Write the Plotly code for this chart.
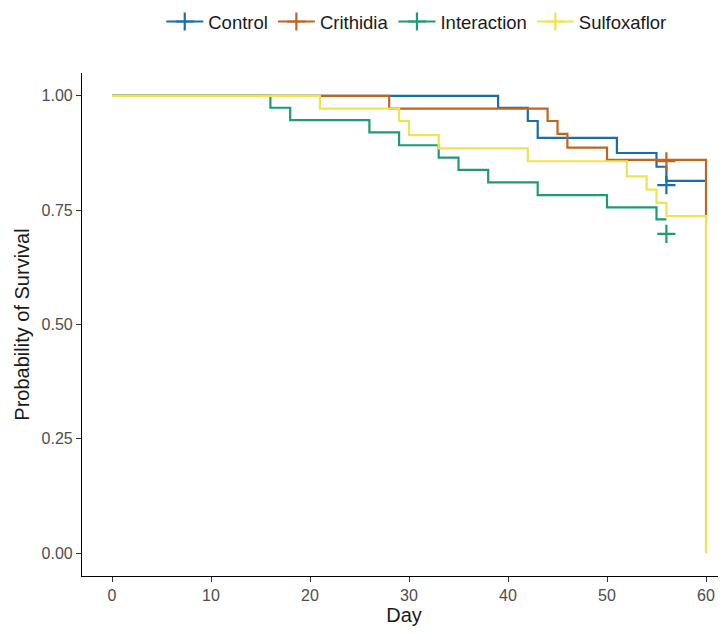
import plotly.graph_objects as go

groups = ["Control", "Crithidia", "Interaction", "Sulfoxaflor"]
colors = ["#1B6CA8", "#C0651F", "#1E9A78", "#EFE253"]

control_days = [0, 39, 42, 43, 51, 55, 56, 60]
control_surv = [1.0, 0.974, 0.945, 0.908, 0.875, 0.845, 0.814, 0.814]

crithidia_days = [0, 28, 44, 45, 46, 50, 60, 60]
crithidia_surv = [1.0, 0.972, 0.945, 0.917, 0.887, 0.860, 0.860, 0.736]

interaction_days = [0, 16, 18, 26, 29, 33, 35, 38, 43, 50, 55, 56]
interaction_surv = [1.0, 0.974, 0.947, 0.920, 0.892, 0.865, 0.838, 0.811, 0.783, 0.756, 0.730, 0.730]

sulfoxaflor_days = [0, 21, 29, 30, 33, 42, 52, 54, 55, 56, 60, 60]
sulfoxaflor_surv = [1.0, 0.972, 0.945, 0.914, 0.885, 0.857, 0.824, 0.795, 0.766, 0.737, 0.737, 0.0]

censor_days = [56, 56, 56]
censor_surv = [0.805, 0.857, 0.698]
censor_groups = ["Control", "Crithidia", "Interaction"]

x_ticks = [0, 10, 20, 30, 40, 50, 60]
y_ticks = [0.0, 0.25, 0.5, 0.75, 1.0]
y_tick_labels = ["0.00", "0.25", "0.50", "0.75", "1.00"]

series = {
    "Control": (control_days, control_surv),
    "Crithidia": (crithidia_days, crithidia_surv),
    "Interaction": (interaction_days, interaction_surv),
    "Sulfoxaflor": (sulfoxaflor_days, sulfoxaflor_surv),
}

fig = go.Figure()
for g, c in zip(groups, colors):
    d, s = series[g]
    fig.add_trace(go.Scatter(x=d, y=s, mode="lines", line=dict(color=c, width=2.2, shape="hv"),
                             name=g, legendgroup=g, showlegend=False, hoverinfo="skip"))

for d, s, g in zip(censor_days, censor_surv, censor_groups):
    c = colors[groups.index(g)]
    fig.add_trace(go.Scatter(x=[d], y=[s], mode="markers",
                             marker=dict(symbol="cross-thin", size=13, line=dict(color=c, width=2.2)),
                             legendgroup=g, showlegend=False))

for g, c in zip(groups, colors):
    fig.add_trace(go.Scatter(x=[None], y=[None], mode="lines+markers", name=g, legendgroup=g,
                             line=dict(color=c, width=2.2),
                             marker=dict(symbol="cross-thin", size=13, line=dict(color=c, width=2.2))))

fig.update_layout(
    width=726, height=635,
    paper_bgcolor="white", plot_bgcolor="white",
    margin=dict(l=74, r=8, t=65, b=67),
    font=dict(family="Liberation Sans, Arial, sans-serif", color="black"),
    legend=dict(orientation="h", xref="container", yref="container", x=0.563, xanchor="center",
                y=0.978, yanchor="middle", itemwidth=37, font=dict(size=18.5, color="#1a1a1a"),
                bgcolor="rgba(0,0,0,0)"),
    xaxis=dict(range=[-3.03, 62.02], tickvals=x_ticks, ticks="outside", ticklen=5, tickcolor="#333333",
               showline=True, linecolor="black", linewidth=1.2, showgrid=False, zeroline=False,
               tickfont=dict(size=16, color="#4d4d4d"),
               title=dict(text="Day", font=dict(size=20, color="#1a1a1a"), standoff=4)),
    yaxis=dict(range=[-0.05, 1.05], tickvals=y_ticks, ticktext=y_tick_labels, ticks="outside", ticklen=5,
               tickcolor="#333333", showline=True, linecolor="black", linewidth=1.2, showgrid=False,
               zeroline=False, tickfont=dict(size=16, color="#4d4d4d"),
               title=dict(text="Probability of Survival", font=dict(size=20, color="#1a1a1a"), standoff=6)),
)

fig.write_html("out.html")
